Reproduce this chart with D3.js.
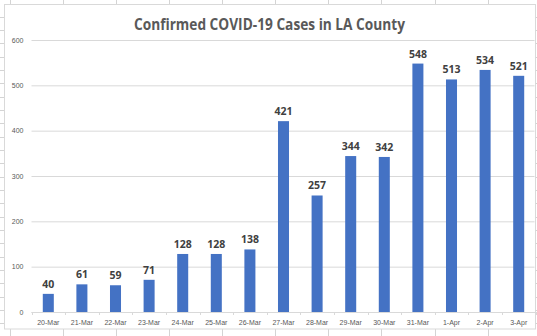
<!DOCTYPE html>
<html><head><meta charset="utf-8">
<script src="https://cdn.jsdelivr.net/npm/d3@7"></script>
<style>body{margin:0;background:#fff}svg{display:block}</style>
</head><body>
<script>
const categories = ["20-Mar","21-Mar","22-Mar","23-Mar","24-Mar","25-Mar","26-Mar","27-Mar","28-Mar","29-Mar","30-Mar","31-Mar","1-Apr","2-Apr","3-Apr"];
const cases = [40,61,59,71,128,128,138,421,257,344,342,548,513,534,521];
const yTicks = [0,100,200,300,400,500,600];
const title = "Confirmed COVID-19 Cases in LA County";

(function () {
const W = 537, H = 336;
const svg = d3.select("body").append("svg").attr("width", W).attr("height", H);

// spreadsheet gridlines behind chart
const sheet = svg.append("g").attr("stroke", "#d4d4d4").attr("stroke-width", 1);
for (let yy = 3.5 + 13.33; yy < H; yy += 13.33) sheet.append("line").attr("x1", 0).attr("x2", W).attr("y1", Math.round(yy) + 0.5).attr("y2", Math.round(yy) + 0.5);
for (let xx = 10; xx < W; xx += 53.07) sheet.append("line").attr("y1", 0).attr("y2", H).attr("x1", Math.round(xx) + 0.5).attr("x2", Math.round(xx) + 0.5);

// chart area
svg.append("rect").attr("x", 4.5).attr("y", 4.5).attr("width", 531).attr("height", 324.5)
  .attr("fill", "#fff").attr("stroke", "#d9d9d9");

const pLeft = 31.5, pRight = 535.5, pTop = 40, pBottom = 312;
const x = d3.scaleBand().domain(categories).range([pLeft, pRight]).paddingInner(0.672).paddingOuter(0.336);
const y = d3.scaleLinear().domain([0, 600]).range([pBottom, pTop]);

// y gridlines + labels
const ya = svg.append("g").attr("transform", `translate(${pLeft},0)`)
  .call(d3.axisLeft(y).tickValues(yTicks).tickSize(-(pRight - pLeft - 1)).tickPadding(8).tickFormat(d3.format("d")));
ya.select(".domain").remove();
ya.selectAll(".tick line").attr("stroke", "#d9d9d9");
ya.selectAll(".tick text").attr("fill", "#595959").style("font-family", "Liberation Sans, Arial, sans-serif").style("font-size", "7px");

// x axis
const xa = svg.append("g").attr("transform", `translate(0,${pBottom})`)
  .call(d3.axisBottom(x).tickSize(0).tickPadding(8));
xa.select(".domain").attr("stroke", "#d9d9d9").attr("d", `M${pLeft},0.5H${pRight}`);
xa.selectAll(".tick text").attr("fill", "#595959").style("font-family", "Liberation Sans, Arial, sans-serif").style("font-size", "7px");
const step = x.step();
xa.selectAll(".sep").data(d3.range(categories.length + 1)).enter().append("line")
  .attr("x1", i => Math.round(pLeft + i * step) + 0.5).attr("x2", i => Math.round(pLeft + i * step) + 0.5)
  .attr("y1", 0).attr("y2", 3).attr("stroke", "#d9d9d9");

// bars
svg.append("g").selectAll("rect").data(categories).enter().append("rect")
  .attr("x", (d) => x(d)).attr("width", x.bandwidth())
  .attr("y", (d, i) => y(cases[i])).attr("height", (d, i) => pBottom - y(cases[i]))
  .attr("fill", "#4472C4");

// data labels
svg.append("g").selectAll("text").data(categories).enter().append("text")
  .attr("x", d => x(d) + x.bandwidth() / 2).attr("y", (d, i) => y(cases[i]) - 6)
  .attr("text-anchor", "middle").attr("fill", "#404040")
  .style("font-family", "Open Sans, Liberation Sans, sans-serif").style("font-weight", "bold").style("font-size", "10.5px")
  .text((d, i) => cases[i]);

// title
svg.append("text").attr("x", 269.5).attr("y", 30).attr("text-anchor", "middle")
  .attr("fill", "#595959").style("font-family", "Open Sans, Liberation Sans, sans-serif")
  .style("font-weight", "bold").style("font-size", "16.5px")
  .attr("textLength", 271).attr("lengthAdjust", "spacingAndGlyphs")
  .text(title);
})();
</script>
</body></html>
